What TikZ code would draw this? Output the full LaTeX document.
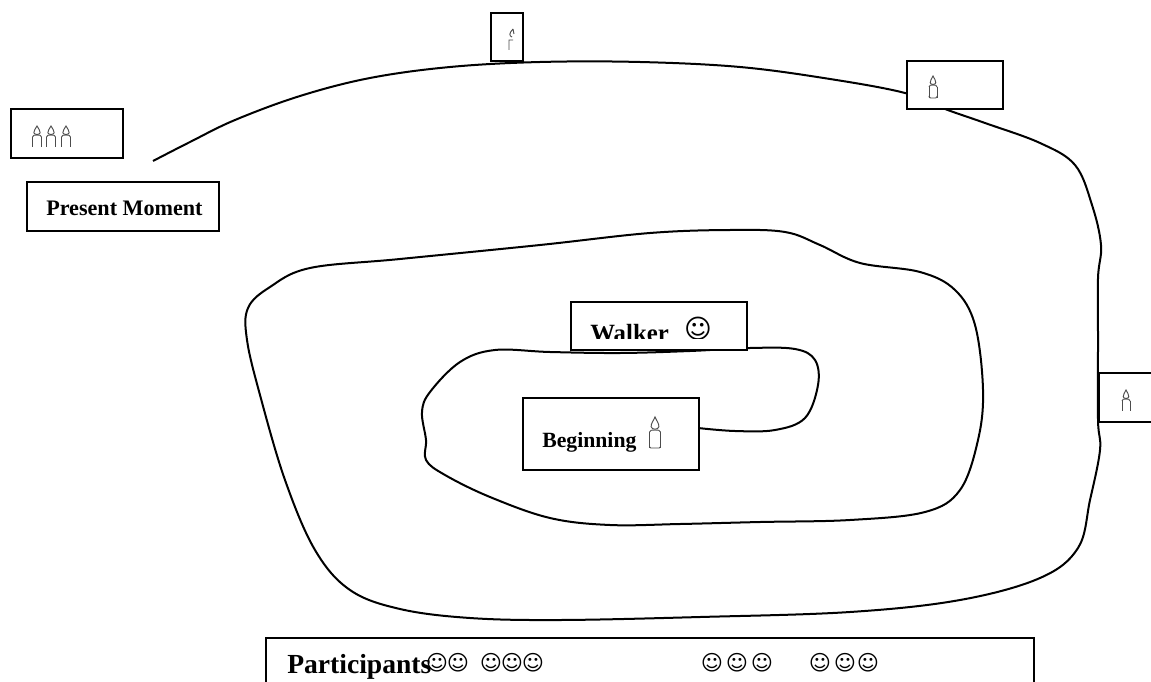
\documentclass[tikz,border=0pt]{standalone}
\usepackage{fontspec}
\setmainfont{Liberation Serif}
\newfontfamily\symfont{DejaVu Sans}
\tikzset{
  x=0.75pt,y=-0.75pt,
  box/.style={draw=black,fill=white,line width=1.5pt,rectangle,inner sep=0pt,anchor=north west},
  lbl/.style={font=\bfseries\fontsize{#1}{#1}\selectfont,inner sep=0pt,anchor=base west,text=black},
  face/.style={font=\symfont\fontsize{#1}{#1}\selectfont,inner sep=0pt,anchor=center,text=black},
  walk/.style={line width=1.5pt,draw=black},
  candleline/.style={draw=black!70,line width=0.7pt},
}
% candle with base centre at (#1,#2); #3 half width, #4 body height, #5 flame height (px)
\newcommand{\candleat}[5]{%
  \begin{scope}[shift={(#1,#2)}]
    \draw[candleline] (-#3,-#4+2) -- (-#3,0) (#3,-#4+2) -- (#3,0);
    \draw[candleline] (-#3,-#4+2) .. controls (-#3,-#4) and (-#3/2,-#4) .. (0,-#4) .. controls (#3/2,-#4) and (#3,-#4) .. (#3,-#4+2);
    \draw[candleline] (0,-#4-#5) .. controls (-#3*0.3,-#4-#5*0.7) and (-#3*0.75,-#4-#5*0.5) .. (-#3*0.7,-#4-#5*0.25) .. controls (-#3*0.6,-#4) and (#3*0.6,-#4) .. (#3*0.7,-#4-#5*0.25) .. controls (#3*0.75,-#4-#5*0.5) and (#3*0.3,-#4-#5*0.7) .. (0,-#4-#5) -- cycle;
  \end{scope}}
\newcommand{\candlebase}[3]{%
  \draw[candleline,rounded corners=1pt] (#1-#3,#2-2) -- (#1-#3,#2) -- (#1+#3,#2) -- (#1+#3,#2-2);}
\begin{document}
\begin{tikzpicture}
\useasboundingbox (0,0) rectangle (1151,681);
\clip (0,0) rectangle (1151,681);
\fill[white] (0,0) rectangle (1151,681);

\coordinate (pathstart) at (698,428);
\coordinate (pathend) at (153,161);
\draw[walk] plot[smooth,tension=0.6] coordinates {
 (pathstart) (735,431) (775,430) (805,418) (818,385) (815,360) (795,349) (750,348)
 (690,351) (620,353) (550,352) (495,350) (460,362) (430,392) (422,412)
 (426,440) (426,460) (445,475) (490,497) (550,518) (610,525) (680,524) (760,522) (850,520)
 (925,512) (960,490) (978,440) (983,390) (975,325) (955,290) (920,272) (860,263) (820,245)
 (785,232) (730,230) (650,233) (540,245) (400,259) (310,268) (270,287) (248,308) (247,340)
 (260,395) (285,480) (315,550) (350,590) (400,609) (470,618) (560,620)
 (700,617) (850,612) (960,600) (1040,578) (1078,548) (1090,500) (1100,450) (1098,420)
 (1098,340) (1098,278) (1101,245) (1092,205) (1075,165) (1040,143) (985,123) (945,109)
 (905,93) (830,79) (740,67) (640,62) (540,62) (450,67) (370,78) (300,96) (235,120)
 (190,142) (pathend)};

\node[box,minimum width=84pt,minimum height=36pt] (threebox) at (9.5,108.5) {};
\node[box,minimum width=144pt,minimum height=36.75pt] (present) at (25.5,180.5) {};
\node[box,minimum width=24pt,minimum height=36pt] (topbox) at (489.5,12.5) {};
\node[box,minimum width=72pt,minimum height=36pt] (onebox) at (905.5,60.5) {};
\node[box,minimum width=60pt,minimum height=36.75pt] (rightbox) at (1097.5,371.5) {};
\node[box,minimum width=132pt,minimum height=36pt] (walker) at (569.5,300.5) {};
\node[box,minimum width=132pt,minimum height=54pt] (beginning) at (521.5,396.5) {};
\node[box,minimum width=576pt,minimum height=60pt] (participants) at (264.5,636.5) {};

\node[lbl=16.6] (tpresent) at (46,215) {Present Moment};
\node[lbl=16.3] (tbeginning) at (542,447) {Beginning};
\begin{scope}
  \clip (572,303) rectangle (745,338.5);
  \node[lbl=18.6] (twalker) at (590,341) {Walker};
  \node[face=20] (fwalker) at (698,329) {☺};
\end{scope}
\node[lbl=20.7] (tparticipants) at (287,673) {Participants};
\node[face=16] (f1) at (437,663) {☺};
\node[face=16] (f2) at (458,663) {☺};
\node[face=16] (f3) at (491,663) {☺};
\node[face=16] (f4) at (512,663) {☺};
\node[face=16] (f5) at (533,663) {☺};
\node[face=16] (f6) at (712,663) {☺};
\node[face=16] (f7) at (737,663) {☺};
\node[face=16] (f8) at (762,663) {☺};
\node[face=16] (f9) at (820,663) {☺};
\node[face=16] (f10) at (845,663) {☺};
\node[face=16] (f11) at (868,663) {☺};

\candleat{37}{147}{4.5}{12}{9}
\candleat{51}{147}{4.5}{12}{9}
\candleat{66}{147}{4.5}{12}{9}
\candleat{933}{98}{4}{13}{9}\candlebase{933}{98}{4}
\candleat{1126}{411}{4}{12}{9}
\candleat{655}{448}{5.5}{18}{13}\candlebase{655}{448}{5.5}
\draw[candleline] (509,50) -- (509,40) -- (513,40) (513,29) .. controls (509,33) and (509,36) .. (512,37) (513,29) -- (514,34);
\end{tikzpicture}
\end{document}
